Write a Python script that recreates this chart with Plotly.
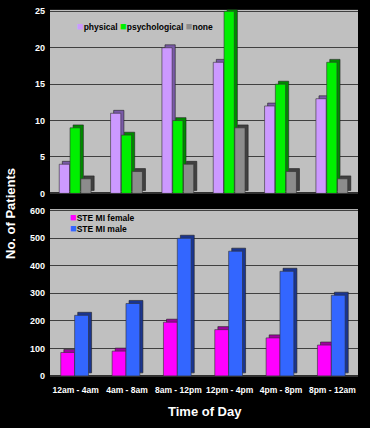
import plotly.graph_objects as go

categories = ["12am - 4am", "4am - 8am", "8am - 12pm", "12pm - 4pm", "4pm - 8pm", "8pm - 12am"]
physical = [4, 11, 20, 18, 12, 13]
psychological = [9, 8, 10, 25, 15, 18]
none_vals = [2, 3, 4, 9, 3, 2]
stemi_female = [85, 90, 195, 168, 138, 112]
stemi_male = [220, 263, 500, 453, 380, 293]
top_ticks = [0, 5, 10, 15, 20, 25]
bottom_ticks = [0, 100, 200, 300, 400, 500, 600]

x = list(range(len(categories)))
FONT = "Liberation Sans, Arial, sans-serif"

fig = go.Figure()

def add_series(name, vals, color, dark, offset, width, xa, ya, depth_x, depth_y):
    fig.add_trace(go.Bar(
        x=x, y=vals, base=[depth_y] * len(vals), offset=offset + depth_x, width=width,
        marker=dict(color=dark, line=dict(color="#202020", width=0.6)),
        xaxis=xa, yaxis=ya, showlegend=False, hoverinfo="skip"))
    fig.add_trace(go.Bar(
        x=x, y=vals, offset=offset, width=width, name=name,
        marker=dict(color=color, line=dict(color="#303030", width=0.6)),
        xaxis=xa, yaxis=ya, showlegend=False))

add_series("physical", physical, "#CC99FF", "#7A5AA8", -0.32, 0.2, "x", "y", 0.06, 0.4)
add_series("psychological", psychological, "#00F000", "#008A00", -0.11, 0.2, "x", "y", 0.06, 0.4)
add_series("none", none_vals, "#8C8C8C", "#404040", 0.10, 0.2, "x", "y", 0.06, 0.4)
add_series("STE MI female", stemi_female, "#FF00FF", "#A000A0", -0.29, 0.27, "x2", "y2", 0.06, 11)
add_series("STE MI male", stemi_male, "#3366FF", "#1A3590", -0.02, 0.27, "x2", "y2", 0.06, 11)

axis_font = dict(family=FONT, size=9, color="white")
xdom = [50 / 370, 358 / 370]

def sq(color):
    return f"<span style='color:{color};font-size:11px'>■</span>"

legend_font = dict(family=FONT, size=8.5, color="black")

fig.update_layout(
    width=370, height=428,
    margin=dict(l=0, r=0, t=0, b=0),
    paper_bgcolor="black", plot_bgcolor="#C0C0C0",
    barmode="overlay",
    font=dict(family=FONT, color="white"),
    xaxis=dict(domain=xdom, range=[-0.5, 5.5], anchor="y", showticklabels=False,
               showgrid=False, zeroline=False, showline=False, ticks=""),
    yaxis=dict(domain=[1 - 194 / 428, 1 - 7 / 428], range=[0, 25.2], anchor="x",
               tickvals=top_ticks, ticktext=[f"<b>{t}</b>" for t in top_ticks],
               tickfont=axis_font, showgrid=True,
               gridcolor="#404040", gridwidth=1, zeroline=True, zerolinecolor="#303030",
               zerolinewidth=2, ticks="", showline=False, ticklabelstandoff=4),
    xaxis2=dict(domain=xdom, range=[-0.5, 5.5], anchor="y2", tickvals=x,
                ticktext=[f"<b>{c}</b>" for c in categories], tickangle=0,
                tickfont=dict(family=FONT, size=8.5, color="white"),
                showgrid=False, zeroline=False, showline=False, ticks="",
                ticklabelstandoff=8),
    yaxis2=dict(domain=[1 - 380 / 428, 1 - 210 / 428], range=[0, 606], anchor="x2",
                tickvals=bottom_ticks, ticktext=[f"<b>{t}</b>" for t in bottom_ticks],
                tickfont=axis_font, showgrid=True,
                gridcolor="#404040", gridwidth=1, zeroline=True, zerolinecolor="#303030",
                zerolinewidth=2, ticks="", showline=False, ticklabelstandoff=4),
    annotations=[
        dict(text="<b>No. of Patients</b>", x=11 / 370, y=1 - 215 / 428, xref="paper", yref="paper",
             textangle=-90, showarrow=False, xanchor="center", yanchor="middle",
             font=dict(family=FONT, size=13, color="white")),
        dict(text="<b>Time of Day</b>", x=205 / 370, y=1 - 416 / 428, xref="paper", yref="paper",
             showarrow=False, xanchor="center", yanchor="middle",
             font=dict(family=FONT, size=13, color="white")),
        dict(text=f"{sq('#CC99FF')}<b>physical</b> {sq('#00F000')}<b>psychological</b> {sq('#8C8C8C')}<b>none</b>",
             x=75 / 370, y=1 - 23 / 428, xref="paper", yref="paper", xanchor="left", yanchor="middle",
             showarrow=False, font=legend_font),
        dict(text=f"{sq('#FF00FF')}<b>STE MI female</b>",
             x=68 / 370, y=1 - 218 / 428, xref="paper", yref="paper", xanchor="left", yanchor="middle",
             showarrow=False, font=legend_font),
        dict(text=f"{sq('#3366FF')}<b>STE MI male</b>",
             x=68 / 370, y=1 - 229 / 428, xref="paper", yref="paper", xanchor="left", yanchor="middle",
             showarrow=False, font=legend_font),
    ],
)

fig.write_html("out.html", config={"displayModeBar": False},
               post_script="document.body.style.margin='0';")
